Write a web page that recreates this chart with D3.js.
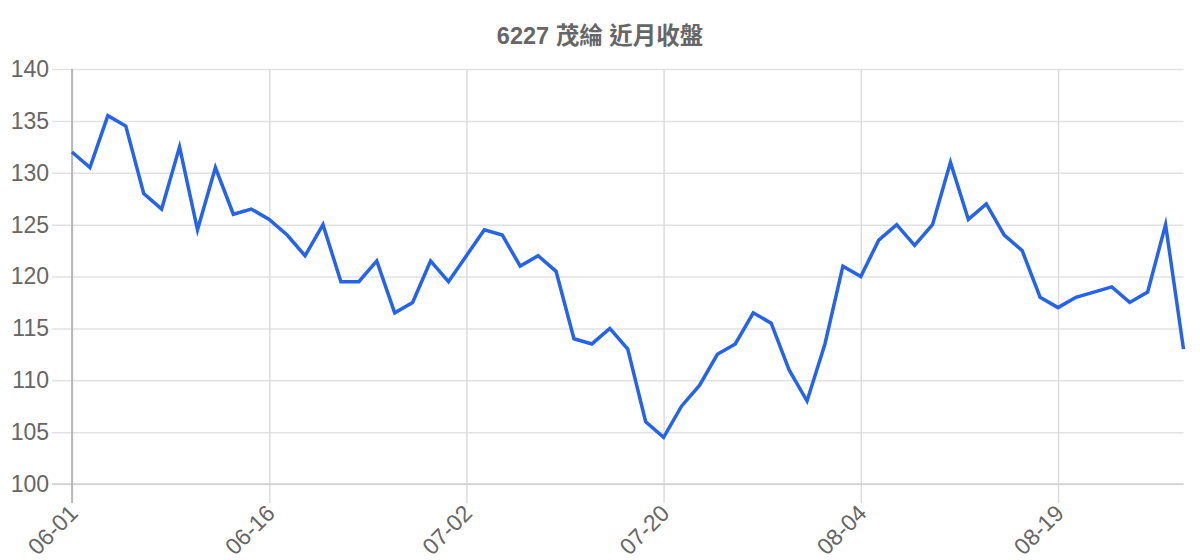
<!DOCTYPE html>
<html>
<head>
<meta charset="utf-8">
<script src="https://cdn.jsdelivr.net/npm/d3@7"></script>
<style>
  html, body { margin: 0; padding: 0; background: #fff; }
  svg { display: block; font-family: "Liberation Sans", Arial, "Noto Sans CJK TC", sans-serif; }
</style>
</head>
<body>
<svg id="chart" width="1200" height="560"></svg>
<script>
const title = "6227 茂綸 近月收盤";
const dates = ["06-01","06-02","06-03","06-04","06-05","06-08","06-09","06-10","06-11","06-12","06-15","06-16",
  "06-17","06-18","06-19","06-22","06-23","06-24","06-25","06-29","06-30","07-01","07-02",
  "07-03","07-06","07-07","07-08","07-09","07-10","07-13","07-14","07-15","07-16","07-20",
  "07-21","07-22","07-23","07-24","07-27","07-28","07-29","07-30","07-31","08-03","08-04",
  "08-05","08-06","08-07","08-10","08-11","08-12","08-13","08-14","08-17","08-18","08-19",
  "08-20","08-21","08-24","08-25","08-26","08-27","08-28"];
const closes = [132,130.5,135.5,134.5,128,126.5,132.5,124.5,130.5,126,126.5,125.5,
  124,122,125,119.5,119.5,121.5,116.5,117.5,121.5,119.5,122,
  124.5,124,121,122,120.5,114,113.5,115,113,106,104.5,
  107.5,109.5,112.5,113.5,116.5,115.5,111,108,113.5,121,120,
  123.5,125,123,125,131,125.5,127,124,122.5,118,117,
  118,118.5,119,117.5,118.5,125,113];
const xTicks = ["06-01","06-16","07-02","07-20","08-04","08-19"];
const yTicks = [100,105,110,115,120,125,130,135,140];

const svg = d3.select("#chart");
const L = 72, R = 1183.5, T = 69, B = 484;

const x = d3.scalePoint().domain(dates).range([L, R]);
const y = d3.scaleLinear().domain([100, 140]).range([B, T]);

// title
svg.append("text")
  .attr("x", 600).attr("y", 44)
  .attr("text-anchor", "middle")
  .attr("font-size", 23.5).attr("font-weight", "bold")
  .attr("fill", "#666")
  .text(title);

// Y axis with grid
const gy = svg.append("g").attr("transform", `translate(${L},0)`)
  .call(d3.axisLeft(y).tickValues(yTicks).tickSizeInner(-(R - L)).tickSizeOuter(0).tickPadding(23));
gy.select(".domain").remove();
gy.selectAll(".tick line").attr("x1", -20).attr("stroke", "#e2e2e2").attr("stroke-width", 1.5);
gy.selectAll(".tick text").attr("font-size", 23).attr("fill", "#666")
  .attr("font-family", "Liberation Sans, Arial, sans-serif");

// X axis with grid
const gx = svg.append("g").attr("transform", `translate(0,${B})`)
  .call(d3.axisBottom(x).tickValues(xTicks).tickSizeInner(-(B - T)).tickSizeOuter(0));
gx.select(".domain").remove();
gx.selectAll(".tick line").attr("y1", 19).attr("stroke", "#dcdcdc").attr("stroke-width", 1.5);
gx.selectAll(".tick text")
  .attr("font-size", 23).attr("fill", "#666")
  .attr("font-family", "Liberation Sans, Arial, sans-serif")
  .attr("text-anchor", "end")
  .attr("y", 0).attr("dy", "0.35em")
  .attr("transform", "translate(1,25) rotate(-45)");

// axis border lines
svg.append("line").attr("x1", L - 20).attr("x2", R).attr("y1", y(100)).attr("y2", y(100))
  .attr("stroke", "#cfcfcf").attr("stroke-width", 1.5);
svg.append("line").attr("x1", L).attr("x2", L).attr("y1", T).attr("y2", B + 19)
  .attr("stroke", "#aaaaaa").attr("stroke-width", 1.5);

// line
const line = d3.line().x((d, i) => x(dates[i])).y(d => y(d));
svg.append("path")
  .datum(closes)
  .attr("d", line)
  .attr("fill", "none")
  .attr("stroke", "#2563eb")
  .attr("stroke-width", 3.5)
  .attr("stroke-linejoin", "miter")
  .attr("stroke-miterlimit", 10);
</script>
</body>
</html>
